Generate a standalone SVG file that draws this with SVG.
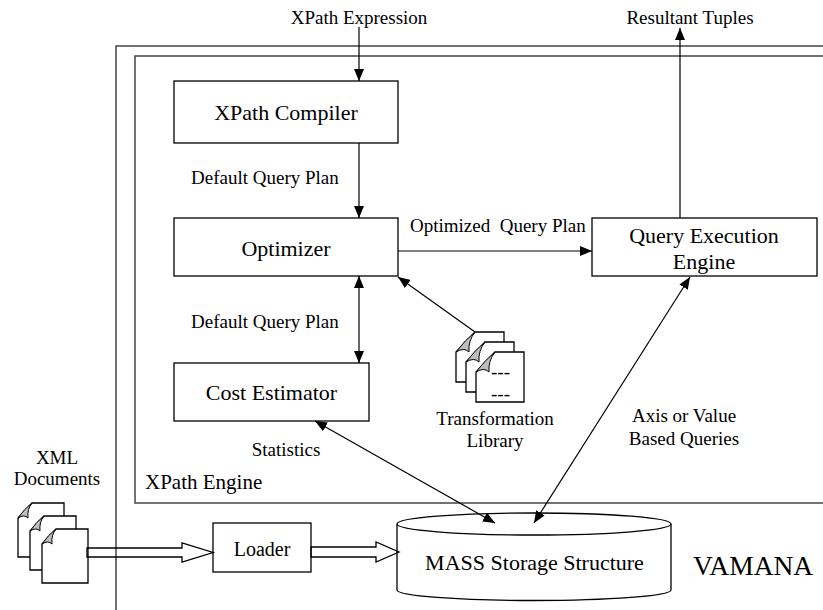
<svg xmlns="http://www.w3.org/2000/svg" xmlns:xlink="http://www.w3.org/1999/xlink" width="823" height="610" viewBox="0 0 823 610" font-family="'Liberation Serif', 'Times New Roman', Times, serif">
<style>
text{fill:#000}
.t{font-size:22px;text-anchor:middle}
.l{font-size:19px}
.c{text-anchor:middle}
.box{fill:#fff;stroke:#000;stroke-width:1.3}
.frame{fill:none;stroke:#444;stroke-width:1.5}
.con{fill:none;stroke:#000;stroke-width:1.2}
.page{fill:#fff;stroke:#000;stroke-width:1.3}
.flap{fill:#bdbdbd;stroke:#000;stroke-width:1}
.hollow{fill:none;stroke:#000;stroke-width:1.3}
</style>
<defs>
<marker id="ah" viewBox="0 0 12 10" refX="12" refY="5" markerWidth="12" markerHeight="10" markerUnits="userSpaceOnUse" orient="auto-start-reverse">
<path d="M0,0 L12,5 L0,10 Z" fill="#000"/>
</marker>
<g id="pgS">
<path class="page" d="M14,0 H46 V54 H0 V15 Z"/>
<path class="flap" d="M14,0 Q6,6 0,15 Q6,11 10,15 Q9,6 14,0 Z"/>
</g>
<g id="pgL">
<path class="page" d="M19,0 H48 V50 H0 V20 Z"/>
<path class="flap" d="M19,0 Q9,8 0,20 Q8,15 13,20 Q12,9 19,0 Z"/>
</g>
</defs>
<rect width="823" height="610" fill="#fff"/>

<g id="vamana">
<path class="frame" d="M830,46 H116 V615"/>
<text x="693" y="575" font-family="'Liberation Serif', serif" font-size="27.5">VAMANA</text>
</g>
<g id="xpath-engine">
<path class="frame" d="M830,56 H135 V503 H830"/>
<text x="145" y="489" font-family="'Liberation Serif', serif" font-size="21">XPath Engine</text>
</g>

<g id="xpath-compiler">
<rect class="box" x="174" y="81" width="224" height="62"/>
<text class="t" x="286" y="120">XPath Compiler</text>
</g>
<g id="optimizer">
<rect class="box" x="174" y="218" width="224" height="58"/>
<text class="t" x="286" y="256">Optimizer</text>
</g>
<g id="cost-estimator">
<rect class="box" x="174" y="363" width="195" height="58"/>
<text class="t" x="271.5" y="400">Cost Estimator</text>
</g>
<g id="query-execution-engine">
<rect class="box" x="592" y="218" width="225" height="58"/>
<text class="t" x="704" y="243">Query Execution</text>
<text class="t" x="704" y="269">Engine</text>
</g>
<g id="transformation-library">
<use xlink:href="#pgL" x="456" y="332"/>
<use xlink:href="#pgL" x="466" y="342"/>
<use xlink:href="#pgL" x="476" y="352"/>
<text class="l" x="491" y="378">---</text>
<text class="l" x="491" y="400">---</text>
<text class="l c" x="495" y="425">Transformation</text>
<text class="l c" x="495" y="447">Library</text>
</g>
<g id="xml-documents">
<use xlink:href="#pgS" x="18" y="503"/>
<use xlink:href="#pgS" x="30" y="516"/>
<use xlink:href="#pgS" x="42" y="529"/>
<text class="l c" x="57" y="464">XML</text>
<text class="l c" x="57" y="485">Documents</text>
</g>
<g id="loader">
<rect class="box" x="213" y="523" width="98" height="49"/>
<text class="c" x="262" y="556" font-size="20">Loader</text>
</g>
<g id="mass-storage">
<path class="box" d="M397,524 V590 A137,10.5 0 0 0 671,590 V524"/>
<ellipse class="box" cx="534" cy="524" rx="137" ry="11"/>
<text class="t" x="534.5" y="570">MASS Storage Structure</text>
</g>

<g id="connectors">
<path class="con" d="M359,27 V81" marker-end="url(#ah)"/>
<path class="con" d="M359,143 V218" marker-end="url(#ah)"/>
<path class="con" d="M359,276 V363" marker-start="url(#ah)" marker-end="url(#ah)"/>
<path class="con" d="M398,251 H592" marker-end="url(#ah)"/>
<path class="con" d="M680,218 V28" marker-end="url(#ah)"/>
<path class="con" d="M475,332 L398,277" marker-end="url(#ah)"/>
<path class="con" d="M315,421 L495,523" marker-start="url(#ah)" marker-end="url(#ah)"/>
<path class="con" d="M534,523 L690,277" marker-start="url(#ah)" marker-end="url(#ah)"/>
<polygon class="hollow" points="87,548 182,548 182,543 213,552.5 182,562 182,557 87,557"/>
<polygon class="hollow" points="311,547 376,547 376,542 399,552 376,562 376,557 311,557"/>
<text class="l c" x="359" y="24">XPath Expression</text>
<text class="l c" x="690" y="24">Resultant Tuples</text>
<text class="l" x="191" y="184">Default Query Plan</text>
<text class="l" x="410" y="232" xml:space="preserve">Optimized  Query Plan</text>
<text class="l" x="191" y="328">Default Query Plan</text>
<text class="l c" x="286" y="456">Statistics</text>
<text class="l c" x="684" y="422">Axis or Value</text>
<text class="l c" x="684" y="445">Based Queries</text>
</g>
</svg>
